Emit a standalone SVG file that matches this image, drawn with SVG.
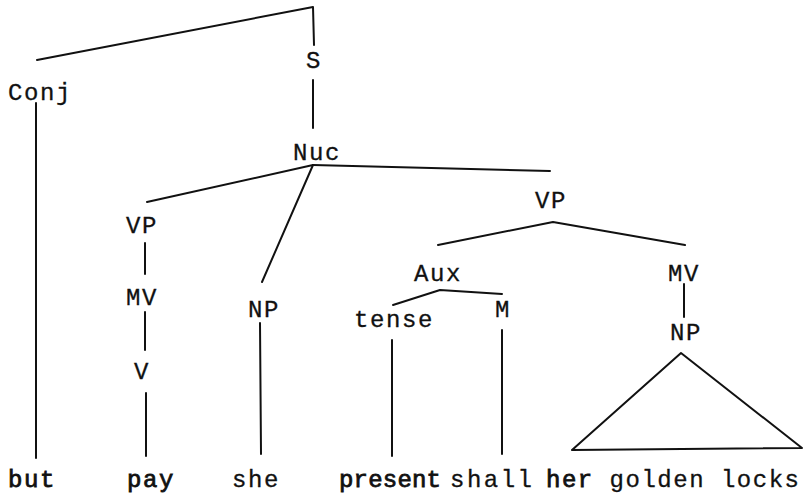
<svg xmlns="http://www.w3.org/2000/svg" width="807" height="493" viewBox="0 0 807 493">
<style>
text{font-family:"Liberation Mono","DejaVu Sans Mono",monospace;font-size:24px;letter-spacing:1.6px;fill:#111;stroke:#111;stroke-width:0.3px}
.b{stroke-width:0.8px}
.e{stroke:#111;stroke-width:2;fill:none;stroke-linecap:round;stroke-linejoin:round}
</style>
<rect width="807" height="493" fill="#fff"/>
<g id="connectors" class="e">
<polyline points="37,60 313,7 314,45"/>
<line x1="313" y1="80" x2="313" y2="128"/>
<line x1="36" y1="103" x2="36" y2="458"/>
<line x1="313" y1="165" x2="147" y2="202"/>
<line x1="313" y1="165" x2="262" y2="282"/>
<line x1="313" y1="165" x2="550" y2="171"/>
<line x1="145" y1="243" x2="145" y2="274"/>
<line x1="145" y1="312" x2="145" y2="350"/>
<line x1="146" y1="393" x2="146" y2="456"/>
<line x1="260" y1="323" x2="261" y2="454"/>
<polyline points="438,245 553,222 685,245"/>
<polyline points="393,305 440,290 502,294"/>
<line x1="392" y1="340" x2="392" y2="456"/>
<line x1="502" y1="330" x2="502" y2="454"/>
<line x1="684" y1="284" x2="684" y2="317"/>
<polygon points="681,353 572,450 802,448"/>
</g>
<g id="S"><text x="306" y="68">S</text></g>
<g id="Conj"><text x="8" y="100">Conj</text></g>
<g id="Nuc"><text x="293" y="160">Nuc</text></g>
<g id="VP1"><text x="126" y="233">VP</text></g>
<g id="MV1"><text x="126" y="305">MV</text></g>
<g id="V"><text x="134" y="379">V</text></g>
<g id="NP1"><text x="248" y="317">NP</text></g>
<g id="VP2"><text x="535" y="208">VP</text></g>
<g id="Aux"><text x="414" y="281">Aux</text></g>
<g id="tense"><text x="354" y="327">tense</text></g>
<g id="M"><text x="495" y="317">M</text></g>
<g id="MV2"><text x="668" y="281">MV</text></g>
<g id="NP2"><text x="670" y="340">NP</text></g>
<g id="but"><text class="b" x="8" y="487">but</text></g>
<g id="pay"><text class="b" x="127" y="487">pay</text></g>
<g id="she"><text x="232" y="487">she</text></g>
<g id="present"><text class="b" x="339" y="487" style="letter-spacing:0.2px">present</text></g>
<g id="shall"><text x="450" y="487" style="letter-spacing:2.5px">shall</text></g>
<g id="herGoldenLocks"><text x="546" y="487" style="letter-spacing:1.5px"><tspan class="b">her</tspan> golden locks</text></g>
</svg>
